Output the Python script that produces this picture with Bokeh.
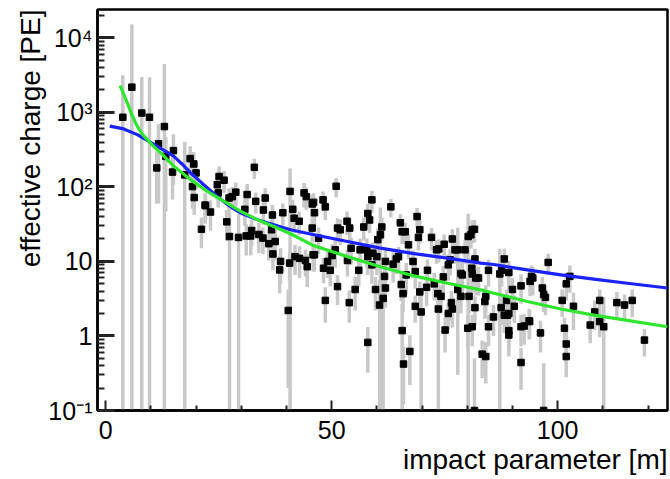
from bokeh.plotting import figure
from bokeh.models import Range1d, FixedTicker, Title
from bokeh.embed import file_html
from bokeh.resources import INLINE

impact_m = [
    3.8, 5.8, 8.0, 9.7, 13.0, 11.7, 11.3, 13.3, 15.0, 14.8, 17.5, 18.7, 19.5, 20.0, 19.2, 19.6, 22.0, 21.2,
    23.2, 22.1, 24.7, 25.1, 26.2, 24.9, 26.8, 27.4, 27.3, 28.0, 28.8, 29.4, 31.1, 32.1, 32.3, 32.9, 30.8, 31.3,
    33.2, 33.9, 34.8, 34.9, 35.3, 36.1, 36.7, 36.9, 37.5, 37.0, 38.7, 38.5, 39.2, 40.8, 41.4, 41.7, 42.8, 40.4,
    40.7, 41.9, 42.9, 43.9, 44.4, 44.2, 44.6, 45.7, 45.7, 45.9,
    51.0, 46.0, 46.2, 48.1, 48.6, 47.1, 46.2, 48.2, 49.1, 49.7, 50.1, 50.8, 51.3, 51.9, 53.4, 54.0, 54.3, 53.5,
    48.6, 51.3, 55.2, 53.9, 56.0, 56.3, 57.1, 58.0, 58.4, 58.9, 57.8, 58.0, 58.9, 59.1, 60.0, 60.2, 61.1, 59.7,
    60.8, 60.6, 61.4, 61.9, 61.7, 58.0, 61.9, 63.1, 63.6, 64.3, 64.8, 65.2, 65.6, 66.3, 67.0, 66.5, 65.4, 65.8,
    65.6, 67.3, 65.9, 68.9, 69.5, 69.2, 68.0, 68.5, 69.5, 68.5, 69.8,
    72.1, 71.2, 71.0, 73.2, 73.7, 74.9, 72.7, 73.5, 73.6, 74.2, 74.7, 75.1, 75.8, 75.8, 76.2, 76.7, 76.5, 76.7,
    77.3, 77.9, 77.9, 78.6, 78.6, 78.9, 79.5, 80.2, 80.8, 81.1, 81.6, 80.4, 81.0, 81.1, 81.7, 81.9, 82.5, 81.7,
    80.1, 81.1, 83.3, 84.1, 84.1, 83.9, 84.7, 84.7, 85.8, 87.5, 87.2, 87.6, 88.2, 88.2, 88.7, 88.9, 89.2, 89.2,
    89.2, 89.2, 90.0, 90.4, 91.9, 91.9, 91.9, 92.6, 93.7, 93.9,
    97.9, 94.2, 94.5, 93.8, 96.2, 96.6, 96.9, 97.3, 101.0, 101.5, 101.9, 101.9, 101.9, 102.7, 103.5, 107.2,
    108.2, 109.3, 109.3, 110.2, 113.1, 114.8, 116.5, 119.2, 96.9, 81.6,
]

charge_pe = [
    860, 2180, 980, 860, 645, 380, 180, 257, 307, 158, 145, 240, 203, 154, 101, 72, 57, 27,
    46, 56, 107, 138, 123, 83, 34, 21.6, 71, 74, 85, 21, 22, 22, 26, 183, 50, 79,
    64, 23, 20.6, 49, 71, 17.3, 26.6, 42, 18.5, 12.6, 10, 7.7, 45, 87, 50, 38, 34.6, 2.2,
    9.5, 11.6, 11, 83, 74, 10.3, 8.5, 59, 28, 12.3,
    102, 62, 45, 67, 54, 20.5, 12.3, 8.1, 10, 7.6, 12, 14.3, 28, 26.6, 34.6, 28, 15, 10.3,
    3.0, 4.6, 4.2, 2.8, 7.6, 14.3, 29, 44, 36, 67, 14.3, 11.6, 9.0, 12.9, 11.6, 19.6, 29, 4.2,
    22.8, 2.6, 3.2, 4.4, 6.3, 0.82, 10, 54, 9.2, 10.8, 11.6, 33, 25, 25, 16.7, 6.6, 4.9, 3.7,
    1.18, 0.62, 0.42, 40, 26.6, 21, 10, 7.3, 3.9, 2.5, 2.1,
    21, 7.6, 4.5, 14.3, 14.7, 17, 5.0, 3.7, 2.3, 3.4, 6.2, 1.2, 2.0, 9.0, 10.5, 20, 2.8, 2.3,
    14.3, 14.3, 4.2, 6.9, 3.4, 6.6, 14.3, 21.6, 22.8, 26.6, 27, 3.4, 8.1, 6.8, 10.8, 6.0, 6.0, 2.4,
    1.27, 1.33, 0.57, 0.53, 3.4, 2.9, 7.6, 1.33, 1.8, 2.4, 6.8, 7.6, 10.8, 1.9, 3.0, 1.9, 2.0, 1.18,
    1.03, 7.1, 4.2, 2.5, 4.7, 1.33, 0.44, 1.36, 1.6, 5.4,
    9.7, 6.3, 6.0, 1.56, 1.1, 4.4, 3.6, 3.3, 3.0, 1.27, 0.78, 0.53, 5.0, 6.3, 2.5, 1.4,
    2.1, 3.0, 1.56, 1.33, 2.8, 2.6, 3.0, 0.88, 0.1, 0.1,
]

charge_err = [
    2300, 13000, 2000, 2100, 3800, 320, 120, 210, 200, 90, 260, 110, 90, 60, 50, 30, 25, 12,
    20, 20, 40, 50, 40, 30, 15, 24, 25, 25, 30, 22, 10, 10, 10, 55, 20, 30,
    20, 10, 8, 18, 25, 7, 10, 15, 8, 5, 5, 4, 15, 90, 18, 14, 12, 2,
    4, 5, 5, 30, 25, 4, 4, 20, 10, 5,
    30, 20, 15, 20, 18, 8, 5, 3, 4, 3, 5, 6, 10, 10, 12, 10, 6, 4,
    1.5, 2, 2, 1.3, 3, 6, 10, 15, 12, 22, 6, 5, 4, 5, 5, 8, 10, 2,
    30, 3, 3.5, 2, 2.5, 0.5, 4, 15, 4, 4, 4, 10, 8, 8, 6, 3, 2, 1.6,
    1.5, 0.4, 0.3, 12, 9, 7, 4, 3, 1.5, 1, 2.3,
    7, 3, 2, 5, 5, 6, 2, 1.5, 2.5, 1.4, 2.5, 0.6, 0.8, 3.5, 4, 7, 1.2, 1,
    5, 14, 1.7, 3, 1.4, 3, 5, 22, 8, 9, 9, 1.4, 3, 3, 4, 2.5, 2.5, 1,
    0.6, 0.6, 0.3, 0.3, 1.4, 1.2, 3, 0.6, 0.8, 1, 8, 3, 4, 0.8, 1.2, 0.8, 0.8, 0.5,
    0.5, 3, 1.8, 1, 2, 0.6, 0.25, 0.6, 0.7, 2,
    3, 2.5, 2.5, 0.6, 0.5, 1.8, 1.5, 1.4, 1.2, 0.5, 0.35, 0.25, 2, 2.5, 1.3, 0.6,
    0.9, 1.2, 0.6, 2.0, 1.1, 1.0, 1.2, 0.35, 0.33, 0.4,
]

blue_x = [0.9, 4.0, 7.0, 9.2, 11.4, 13.3, 15.1, 17.0, 18.8, 20.3, 21.7, 24.7, 27.3, 29.9, 33.6,
          37.2, 40.9, 46.1, 53.5, 60.8, 68.2, 75.6, 83.0, 85.9, 93.3, 100.7, 108.0, 115.4, 124.3]
blue_y = [655, 600, 503, 420, 350, 300, 257, 200, 154, 128, 107, 74.5, 56, 44.6, 36.2,
          31, 26.6, 22.8, 18.5, 15.1, 12.7, 11.1, 9.5, 9.1, 7.7, 6.6, 5.8, 5.1, 4.4]

green_x = [3.2, 4.0, 4.8, 5.8, 7.0, 8.0, 9.2, 10.6, 12.2, 15.1, 18.8, 22.5, 26.2, 29.9, 33.6,
           37.2, 40.9, 46.1, 53.5, 60.8, 68.2, 75.6, 83.0, 85.9, 93.3, 100.7, 108.0, 115.4, 124.3]
green_y = [2290, 1750, 1342, 930, 650, 520, 431, 350, 286, 189, 125, 87, 64, 46.9, 36.2,
           29.4, 23.5, 16.2, 11.6, 8.5, 6.4, 5.1, 4.15, 3.75, 2.9, 2.3, 1.9, 1.62, 1.33]

x_ticks = [0, 50, 100]
x_minor = [10, 20, 30, 40, 60, 70, 80, 90, 110, 120]
y_ticks = [0.1, 1, 10, 100, 1000, 10000]
y_tick_labels = {0.1: "10\u207b\u00b9", 1: "1", 10: "10", 100: "10\u00b2",
                 1000: "10\u00b3", 10000: "10\u2074"}
x_title = "impact parameter [m]"
y_title = "effective charge [PE]"

X_MIN, X_MAX = -1.8, 124.3
Y_MIN, Y_MAX = 0.1, 2.4e4

n = min(len(impact_m), len(charge_pe), len(charge_err))
xs = impact_m[:n]
qs = charge_pe[:n]
es = charge_err[:n]
hi = [q + e for q, e in zip(qs, es)]
lo = [q - e if q - e > 0 else 0.01 for q, e in zip(qs, es)]

FONT = "Liberation Sans"

p = figure(width=670, height=479, output_backend="svg", toolbar_location=None,
           y_axis_type="log",
           x_range=Range1d(X_MIN, X_MAX), y_range=Range1d(Y_MIN, Y_MAX),
           min_border_left=97, min_border_right=3, min_border_top=9, min_border_bottom=69)

p.xgrid.visible = False
p.ygrid.visible = False
p.outline_line_color = "black"
p.outline_line_width = 2.5
p.background_fill_color = "white"
p.border_fill_color = "white"

p.segment(x0=xs, y0=lo, x1=xs, y1=hi, line_color="#c8c8c8", line_width=3.5)
p.scatter(xs, qs, marker="square", size=6.5, fill_color="black", line_color="black")
p.line(blue_x, blue_y, line_color="#1a22ff", line_width=3.2, line_join="round")
p.line(green_x, green_y, line_color="#2ee62e", line_width=3.2, line_join="round")

# x axis
xa = p.xaxis[0]
xa.ticker = FixedTicker(ticks=x_ticks, minor_ticks=x_minor)
xa.major_tick_in = 10
xa.major_tick_out = 0
xa.minor_tick_in = 5
xa.minor_tick_out = 0
xa.major_tick_line_width = 2
xa.minor_tick_line_width = 2
xa.axis_line_width = 2.5
xa.major_label_standoff = 10

# y axis
ya = p.yaxis[0]
y_minor = []
for d in [0.1, 1, 10, 100, 1000, 10000]:
    for k in range(2, 10):
        y_minor.append(d * k)
ya.ticker = FixedTicker(ticks=y_ticks, minor_ticks=y_minor)
ya.major_label_overrides = y_tick_labels
ya.major_tick_in = 17
ya.major_tick_out = 0
ya.minor_tick_in = 7
ya.minor_tick_out = 0
ya.major_tick_line_width = 3
ya.minor_tick_line_width = 2
ya.axis_line_width = 2.5
ya.major_label_standoff = 5

for ax in (xa, ya):
    ax.axis_line_color = "black"
    ax.major_tick_line_color = "#222222"
    ax.minor_tick_line_color = "#222222"
    ax.major_label_text_font = FONT
    ax.major_label_text_font_size = "25px"
    ax.major_label_text_color = "black"

# axis titles aligned to the far ends of the axes
p.add_layout(Title(text=x_title, align="right", text_font=FONT, text_font_size="28px",
                   text_font_style="normal", text_color="black", standoff=0), "below")
p.add_layout(Title(text=y_title, align="right", text_font=FONT, text_font_size="28px",
                   text_font_style="normal", text_color="black", standoff=0), "left")

open("out.html", "w").write(file_html(p, INLINE))
